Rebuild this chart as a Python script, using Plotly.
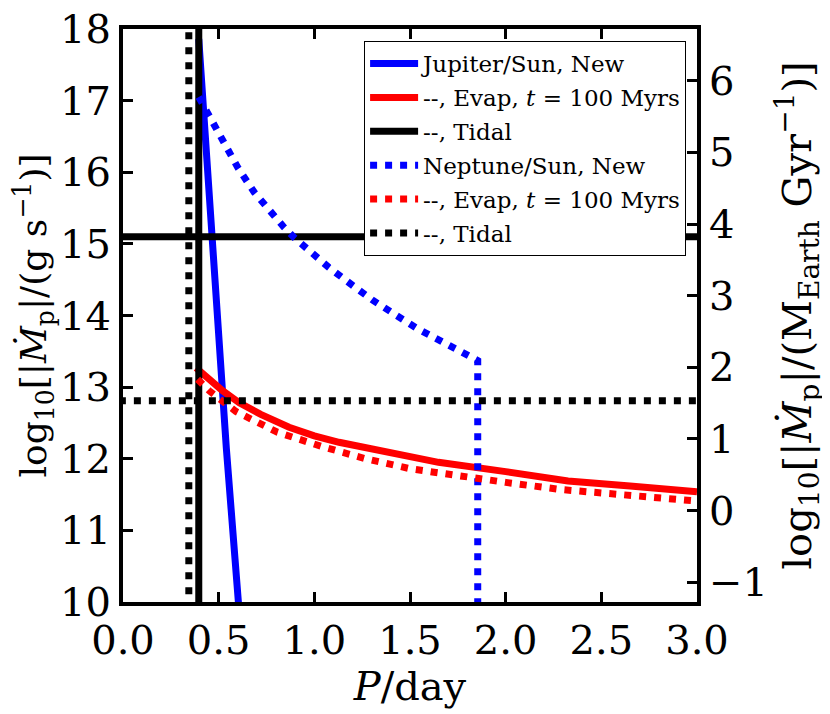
import math
import plotly.graph_objects as go

# log10 of 1 M_Earth / Gyr in g/s, used for the right hand axis
M_EARTH_G = 5.972e27
GYR_S = 3.156e16
OFFSET = math.log10(M_EARTH_G / GYR_S)

# Jupiter / Sun
jup_new_p = [0.396, 0.430, 0.460, 0.492, 0.540, 0.606]
jup_new_mdot = [17.86, 16.45, 15.10, 13.92, 12.15, 9.90]

jup_evap_p = [0.382, 0.45, 0.52, 0.608, 0.72, 0.868, 1.0, 1.129, 1.389, 1.649, 2.0, 2.326, 2.65, 3.0]
jup_evap_mdot = [13.27, 13.10, 12.95, 12.78, 12.62, 12.44, 12.32, 12.23, 12.08, 11.95, 11.82, 11.69, 11.62, 11.54]

jup_tidal_p = 0.396
jup_tidal_mdot = 15.10

# Neptune / Sun
nep_new_p = [0.396, 0.434, 0.512, 0.599, 0.686, 0.738, 0.842, 0.898, 1.076, 1.215, 1.307, 1.53, 1.75, 1.854, 1.854]
nep_new_mdot = [17.05, 16.86, 16.46, 16.07, 15.72, 15.55, 15.23, 15.08, 14.67, 14.39, 14.21, 13.83, 13.53, 13.37, 9.90]

nep_evap_p = [0.39, 0.45, 0.59, 0.807, 1.04, 1.268, 1.502, 1.649, 2.0, 2.29, 2.6, 2.934, 3.0]
nep_evap_mdot = [13.11, 12.95, 12.66, 12.37, 12.17, 12.00, 11.86, 11.80, 11.67, 11.57, 11.49, 11.42, 11.41]

nep_tidal_p = 0.344
nep_tidal_mdot = 12.81

X_RANGE = [0, 3]
Y_RANGE = [10, 18]

FONT = "DejaVu Serif"
DOT = "7px,8px"
LW = 7

fig = go.Figure()

def tidal_xy(p, mdot):
    # one vertical line at the tidal period and one horizontal line at the tidal rate
    xs = [p, p, None, X_RANGE[0] - 0.1, X_RANGE[1] + 0.1]
    ys = [Y_RANGE[0] - 0.1, Y_RANGE[1] + 0.1, None, mdot, mdot]
    return xs, ys

def add_line(x, y, color, dash, name, group):
    fig.add_trace(go.Scatter(x=x, y=y, mode="lines", name=name,
                             legendgroup=group,
                             line=dict(color=color, width=LW, dash=dash)))

add_line(jup_new_p, jup_new_mdot, "#0000ff", "solid", "Jupiter/Sun, New", "a")
add_line(jup_evap_p, jup_evap_mdot, "#ff0000", "solid", "--, Evap, <i>t</i> = 100 Myrs", "b")
jx, jy = tidal_xy(jup_tidal_p, jup_tidal_mdot)
add_line(jx, jy, "#000000", "solid", "--, Tidal", "c")
add_line(nep_new_p, nep_new_mdot, "#0000ff", DOT, "Neptune/Sun, New", "d")
add_line(nep_evap_p, nep_evap_mdot, "#ff0000", DOT, "--, Evap, <i>t</i> = 100 Myrs", "e")
nx, ny = tidal_xy(nep_tidal_p, nep_tidal_mdot)
add_line(nx, ny, "#000000", DOT, "--, Tidal", "f")

# invisible trace so the right axis exists
fig.add_trace(go.Scatter(x=[X_RANGE[0]], y=[Y_RANGE[0] - OFFSET], yaxis="y2",
                         mode="lines", showlegend=False, hoverinfo="skip",
                         line=dict(width=0)))

axis_common = dict(showline=True, linecolor="black", linewidth=4,
                   ticks="inside", ticklen=10, tickwidth=3, tickcolor="black",
                   showgrid=False, zeroline=False, automargin=False,
                   ticklabeloverflow="allow",
                   tickfont=dict(family=FONT, size=40, color="black"))

# page body adds 8px, so the figure is 8px smaller than the window
fig.update_layout(
    width=822, height=706,
    margin=dict(l=115, r=133, t=21, b=112),
    plot_bgcolor="white", paper_bgcolor="white",
    font=dict(family=FONT, color="black"),
    xaxis=dict(range=X_RANGE, dtick=0.5, tickformat=".1f", mirror="ticks",
               title=dict(text="<i>P</i>/day", font=dict(family=FONT, size=40), standoff=2),
               **axis_common),
    yaxis=dict(range=Y_RANGE, dtick=1,
               title=dict(text="log<sub>10</sub>[|<i>M\u0307</i><sub>p</sub>|/(g s<sup>\u22121</sup>)]",
                          font=dict(family=FONT, size=36), standoff=9),
               **axis_common),
    yaxis2=dict(range=[Y_RANGE[0] - OFFSET, Y_RANGE[1] - OFFSET], dtick=1,
                overlaying="y", side="right",
                title=dict(text="log<sub>10</sub>[|<i>M\u0307</i><sub>p</sub>|/(M<sub>Earth</sub> Gyr<sup>\u22121</sup>)]",
                           font=dict(family=FONT, size=40), standoff=4),
                **axis_common),
    legend=dict(x=0.981, y=0.979, xanchor="right", yanchor="top",
                bgcolor="white", bordercolor="black", borderwidth=1,
                font=dict(family=FONT, size=23), traceorder="grouped",
                tracegroupgap=1, itemwidth=48),
    showlegend=True,
)

fig.write_html("out.html")
